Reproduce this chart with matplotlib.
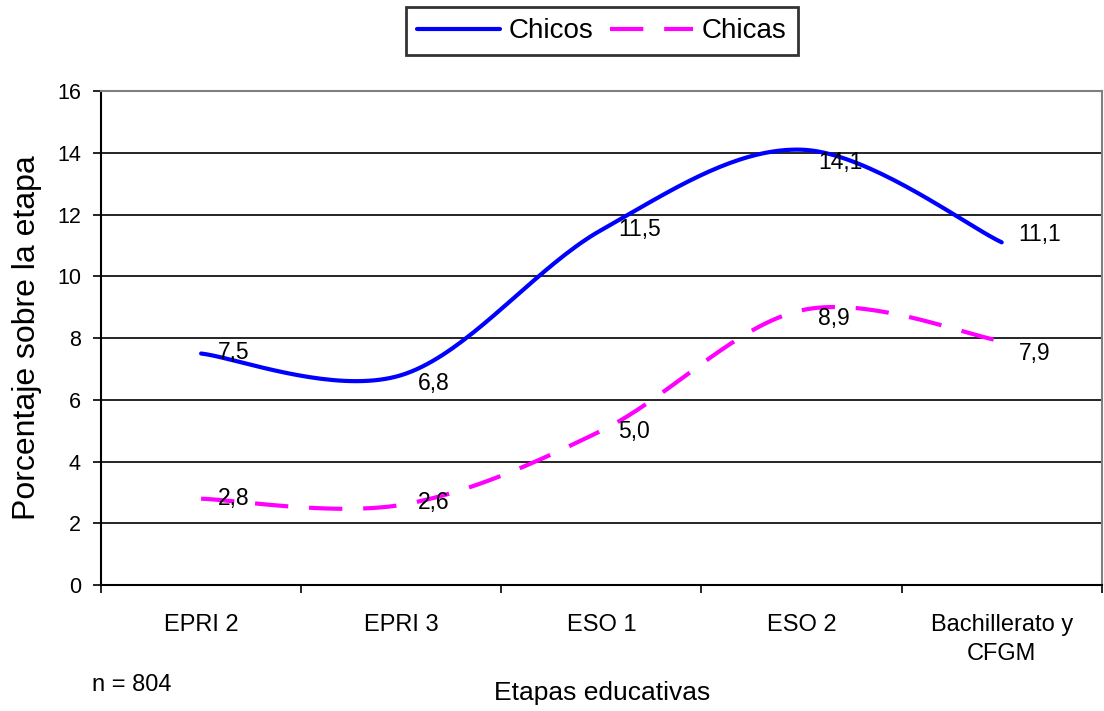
import numpy as np
import matplotlib
matplotlib.use("Agg")
import matplotlib.pyplot as plt

plt.rcParams['font.family'] = ['Liberation Sans', 'DejaVu Sans']

# data
etapas = ["EPRI 2", "EPRI 3", "ESO 1", "ESO 2", "Bachillerato y\nCFGM"]
chicos = [7.5, 6.8, 11.5, 14.1, 11.1]
chicas = [2.8, 2.6, 5.0, 8.9, 7.9]
n_total = 804

# vertical nudge of each data label (pixels, down is positive)
nudge_chicos = [-1, 8, 0, 13, -8]
nudge_chicas = [0, -2, 1, 8, 12]


def excel_smooth(x, y, steps=40):
    # bezier smoothing like the spreadsheet "smoothed line" option
    x = np.asarray(x, float)
    y = np.asarray(y, float)
    px = np.concatenate([[x[0]], x, [x[-1]]])
    py = np.concatenate([[y[0]], y, [y[-1]]])
    t = np.linspace(0, 1, steps)[:, None]
    out_x, out_y = [], []
    for i in range(1, len(x)):
        p0 = np.array([px[i], py[i]])
        p3 = np.array([px[i + 1], py[i + 1]])
        c1 = p0 + (np.array([px[i + 1], py[i + 1]]) - np.array([px[i - 1], py[i - 1]])) / 6
        c2 = p3 - (np.array([px[i + 2], py[i + 2]]) - np.array([px[i], py[i]])) / 6
        b = ((1 - t) ** 3) * p0 + 3 * ((1 - t) ** 2) * t * c1 + 3 * (1 - t) * t ** 2 * c2 + t ** 3 * p3
        out_x.append(b[:, 0])
        out_y.append(b[:, 1])
    return np.concatenate(out_x), np.concatenate(out_y)


xpos = np.arange(len(etapas)) + 0.5

fig = plt.figure(figsize=(11.04, 7.11), dpi=100)
ax = fig.add_axes([0.0915, 0.177, 0.9065, 0.695])

sx, sy = excel_smooth(xpos, chicos)
ax.plot(sx, sy, color="#0000FF", lw=3, solid_capstyle="round", label="Chicos", zorder=3)
sx, sy = excel_smooth(xpos, chicas)
ax.plot(sx, sy, color="#FF00FF", lw=3, dashes=(8, 5), label="Chicas", zorder=3)

# data labels, comma as decimal separator
for serie, nudges in ((chicos, nudge_chicos), (chicas, nudge_chicas)):
    for xi, v, dy in zip(xpos, serie, nudges):
        ax.annotate(f"{v:.1f}".replace(".", ","), (xi, v), xytext=(12, -dy * 0.72),
                    textcoords="offset points", fontsize=16.5, va="center", ha="left", zorder=4)

ax.set_xlim(0, len(etapas))
ax.set_ylim(0, 16)
ax.set_yticks(np.arange(0, 17, 2))
ax.yaxis.grid(True, color="black", lw=1.2)
ax.set_axisbelow(True)

ax.set_xticks(np.arange(0, len(etapas) + 1))
ax.set_xticklabels([])
ax.set_xticks(xpos, minor=True)
ax.set_xticklabels(etapas, minor=True, fontsize=17, linespacing=1.4)
ax.tick_params(axis="x", which="major", direction="out", length=6, width=1.2)
ax.tick_params(axis="x", which="minor", length=0, pad=21)
ax.tick_params(axis="y", direction="out", length=6, width=1.2, labelsize=15.5, pad=8.5)

for side in ("left", "bottom"):
    ax.spines[side].set_color("black")
    ax.spines[side].set_linewidth(1.5)
for side in ("top", "right"):
    ax.spines[side].set_color("#808080")
    ax.spines[side].set_linewidth(1.5)

ax.set_ylabel("Porcentaje sobre la etapa", fontsize=23, labelpad=11)
fig.text(0.545, 0.026, "Etapas educativas", fontsize=19, ha="center", va="center")
fig.text(0.083, 0.036, f"n = {n_total}", fontsize=17, ha="left", va="center")

leg = fig.legend(loc="center", bbox_to_anchor=(0.545, 0.956), ncol=2, fontsize=20,
                 frameon=True, fancybox=False, handlelength=3.0, handletextpad=0.3,
                 columnspacing=0.6, borderpad=0.4, borderaxespad=0)
leg.get_frame().set_edgecolor("black")
leg.get_frame().set_linewidth(2)

fig.savefig("out.png", dpi=100)
